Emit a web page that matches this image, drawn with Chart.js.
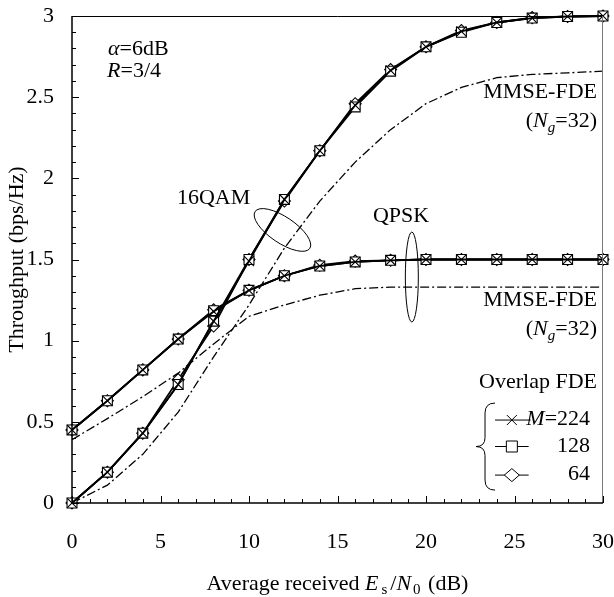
<!DOCTYPE html>
<html>
<head>
<meta charset="utf-8">
<script src="https://cdn.jsdelivr.net/npm/chart.js@4.4.1/dist/chart.umd.min.js"></script>
<style>
  body { margin: 0; background: #fff; }
  #wrap { width: 614px; height: 597px; position: relative; }
</style>
</head>
<body>
<div id="wrap"><canvas id="chartThroughput"></canvas></div>
<script>
// Es/N0 (dB)
const snr = [0, 2, 4, 6, 8, 10, 12, 14, 16, 18, 20, 22, 24, 26, 28, 30];

// overlap FDE, 16QAM
const qamM224 = [0, 0.19, 0.43, 0.73, 1.12, 1.49, 1.87, 2.17, 2.45, 2.665, 2.81, 2.905, 2.96, 2.987, 2.997, 3.0];
const qamM128 = [0, 0.19, 0.43, 0.73, 1.12, 1.50, 1.87, 2.17, 2.44, 2.66, 2.81, 2.90, 2.96, 2.987, 2.997, 3.0];
const qamM64  = [0, 0.19, 0.43, 0.76, 1.09, 1.50, 1.86, 2.17, 2.46, 2.67, 2.81, 2.91, 2.96, 2.99, 2.997, 3.0];

// overlap FDE, QPSK
const qpskM224 = [0.45, 0.63, 0.82, 1.01, 1.18, 1.31, 1.40, 1.46, 1.485, 1.495, 1.5, 1.5, 1.5, 1.5, 1.5, 1.5];
const qpskM128 = [0.45, 0.63, 0.82, 1.01, 1.185, 1.31, 1.40, 1.46, 1.485, 1.495, 1.5, 1.5, 1.5, 1.5, 1.5, 1.5];
const qpskM64  = [0.45, 0.63, 0.82, 1.01, 1.19, 1.31, 1.40, 1.465, 1.49, 1.495, 1.5, 1.5, 1.5, 1.5, 1.5, 1.5];

// MMSE-FDE (Ng=32)
const mmseQam  = [0, 0.11, 0.30, 0.56, 0.90, 1.22, 1.57, 1.86, 2.10, 2.30, 2.46, 2.56, 2.62, 2.64, 2.65, 2.66];
const mmseQpsk = [0.39, 0.52, 0.655, 0.80, 0.98, 1.15, 1.22, 1.28, 1.32, 1.33, 1.33, 1.33, 1.33, 1.33, 1.33, 1.33];

const xTicks = [0, 5, 10, 15, 20, 25, 30];
const yTicks = [0, 0.5, 1, 1.5, 2, 2.5, 3];

const SERIF = '"Liberation Serif", "Times New Roman", serif';

function pts(vals) {
  return vals.map((v, i) => ({ x: snr[i], y: v }));
}

function overlapSet(label, vals, style, radius, order) {
  return {
    label: label,
    data: pts(vals),
    borderColor: '#000',
    borderWidth: 1.8,
    pointStyle: style,
    pointRadius: radius,
    pointBorderWidth: 1.1,
    pointBorderColor: '#000',
    pointBackgroundColor: style === 'crossRot' ? '#000' : '#fff',
    clip: false,
    order: order
  };
}

function mmseSet(label, vals) {
  return {
    label: label,
    data: pts(vals),
    borderColor: '#000',
    borderWidth: 1.3,
    borderDash: [9, 3, 2, 3],
    pointRadius: 0,
    clip: false,
    order: 5
  };
}

// draws a row of text pieces with different fonts
function drawRuns(ctx, runs, x, y, align) {
  let w = 0;
  runs.forEach(r => { ctx.font = r.font; w += ctx.measureText(r.t).width + (r.gap || 0); });
  let cx = align === 'right' ? x - w : align === 'center' ? x - w / 2 : x;
  runs.forEach(r => {
    ctx.font = r.font;
    cx += (r.gap || 0);
    ctx.fillText(r.t, cx, y + (r.dy || 0));
    cx += ctx.measureText(r.t).width;
  });
}

const reg = '22px ' + SERIF;
const ital = 'italic 22px ' + SERIF;
const sub = '15px ' + SERIF;
const subI = 'italic 15px ' + SERIF;

const decorPlugin = {
  id: 'decor',
  afterDraw(chart) {
    const { ctx, chartArea: a, scales: { x, y } } = chart;
    const px = v => x.getPixelForValue(v);
    const py = v => y.getPixelForValue(v);
    ctx.save();
    ctx.strokeStyle = '#000';
    ctx.fillStyle = '#000';
    ctx.lineWidth = 1;

    // inward ticks
    ctx.beginPath();
    for (let i = 0; i <= 30; i++) {
      const p = Math.round(px(i)) + 0.5;
      ctx.moveTo(p, a.bottom);
      ctx.lineTo(p, a.bottom - (i % 5 === 0 ? 7 : 4));
    }
    for (let i = 0; i <= 30; i++) {
      const p = Math.round(py(i / 10)) + 0.5;
      ctx.moveTo(a.left, p);
      ctx.lineTo(a.left + (i % 5 === 0 ? 7 : 4), p);
    }
    ctx.stroke();

    // frame
    ctx.beginPath();
    ctx.moveTo(a.left + 0.5, a.top + 0.5);
    ctx.lineTo(a.right, a.top + 0.5);
    ctx.stroke();
    ctx.strokeStyle = '#777';
    ctx.beginPath();
    ctx.moveTo(a.right - 0.5, a.top);
    ctx.lineTo(a.right - 0.5, a.bottom);
    ctx.stroke();
    ctx.strokeStyle = '#000';
    ctx.lineWidth = 1.5;
    ctx.beginPath();
    ctx.moveTo(a.left, a.top);
    ctx.lineTo(a.left, a.bottom);
    ctx.lineTo(a.right, a.bottom);
    ctx.stroke();

    ctx.textAlign = 'left';
    ctx.textBaseline = 'alphabetic';

    // x title
    drawRuns(ctx, [
      { t: 'Average received ', font: reg },
      { t: 'E', font: ital },
      { t: 's', font: sub, dy: 4, gap: 3 },
      { t: '/', font: reg, gap: 3 },
      { t: 'N', font: ital },
      { t: '0', font: sub, dy: 4, gap: 2 },
      { t: ' (dB)', font: reg, gap: 2 }
    ], (a.left + a.right) / 2, 590, 'center');

    // parameters
    drawRuns(ctx, [{ t: 'α', font: ital }, { t: '=6dB', font: reg }], px(2.03), py(2.76), 'left');
    drawRuns(ctx, [{ t: 'R', font: ital }, { t: '=3/4', font: reg }], px(1.98), py(2.624), 'left');

    // modulation labels + ellipses
    drawRuns(ctx, [{ t: '16QAM', font: reg }], px(5.93), py(1.842), 'left');
    drawRuns(ctx, [{ t: 'QPSK', font: reg }], px(17.0), py(1.731), 'left');
    ctx.lineWidth = 1;
    ctx.beginPath();
    ctx.ellipse(px(11.89), py(1.682), 33, 13, 34 * Math.PI / 180, 0, Math.PI * 2);
    ctx.stroke();
    ctx.beginPath();
    ctx.ellipse(px(19.2), py(1.392), 6.5, 45, 0, 0, Math.PI * 2);
    ctx.stroke();

    // MMSE-FDE labels
    const rx = px(29.66);
    [[2.495, 2.316], [1.214, 1.035]].forEach(([a1, a2]) => {
      drawRuns(ctx, [{ t: 'MMSE-FDE', font: reg }], rx, py(a1), 'right');
      drawRuns(ctx, [
        { t: '(', font: reg },
        { t: 'N', font: ital },
        { t: 'g', font: subI, dy: 5 },
        { t: '=32)', font: reg }
      ], rx, py(a2), 'right');
    });

    // legend
    drawRuns(ctx, [{ t: 'Overlap FDE', font: reg }], rx, py(0.708), 'right');
    const lx0 = px(23.9), lx1 = px(25.8), mx = px(24.85), tr = px(29.27);
    const rows = [py(0.511), py(0.348), py(0.172)];
    ctx.lineWidth = 1;
    rows.forEach((ry, i) => {
      ctx.beginPath();
      ctx.moveTo(lx0, ry);
      ctx.lineTo(i === 0 ? lx1 + 2 : lx1, ry);
      ctx.stroke();
      ctx.beginPath();
      if (i === 0) {
        ctx.moveTo(mx - 5, ry - 5); ctx.lineTo(mx + 5, ry + 5);
        ctx.moveTo(mx + 5, ry - 5); ctx.lineTo(mx - 5, ry + 5);
        ctx.stroke();
      } else if (i === 1) {
        ctx.fillStyle = '#fff';
        ctx.rect(mx - 5.5, ry - 5.5, 11, 11);
        ctx.fill(); ctx.stroke();
      } else {
        ctx.fillStyle = '#fff';
        ctx.moveTo(mx - 7.5, ry); ctx.lineTo(mx, ry - 6.5);
        ctx.lineTo(mx + 7.5, ry); ctx.lineTo(mx, ry + 6.5);
        ctx.closePath();
        ctx.fill(); ctx.stroke();
      }
      ctx.fillStyle = '#000';
    });
    drawRuns(ctx, [{ t: 'M', font: ital }, { t: '=224', font: reg }], tr, rows[0] + 5, 'right');
    drawRuns(ctx, [{ t: '128', font: reg }], tr, rows[1] + 5, 'right');
    drawRuns(ctx, [{ t: '64', font: reg }], tr, rows[2] + 5, 'right');

    // brace
    const bl = lx0 - 19, bx = lx0 - 10;
    const bt = rows[0] - 17, bb = rows[2] + 15, bm = (bt + bb) / 2;
    ctx.beginPath();
    ctx.moveTo(lx0, bt);
    ctx.quadraticCurveTo(bx, bt, bx, bt + 10);
    ctx.lineTo(bx, bm - 9);
    ctx.quadraticCurveTo(bx, bm, bl, bm);
    ctx.quadraticCurveTo(bx, bm, bx, bm + 9);
    ctx.lineTo(bx, bb - 10);
    ctx.quadraticCurveTo(bx, bb, lx0, bb);
    ctx.stroke();

    ctx.restore();
  }
};

new Chart(document.getElementById('chartThroughput'), {
  type: 'line',
  data: {
    datasets: [
      overlapSet('16QAM M=224', qamM224, 'crossRot', 7, 1),
      overlapSet('16QAM M=128', qamM128, 'rect', 7, 2),
      overlapSet('16QAM M=64', qamM64, 'rectRot', 6, 3),
      overlapSet('QPSK M=224', qpskM224, 'crossRot', 7, 1),
      overlapSet('QPSK M=128', qpskM128, 'rect', 7, 2),
      overlapSet('QPSK M=64', qpskM64, 'rectRot', 6, 3),
      mmseSet('16QAM MMSE-FDE', mmseQam),
      mmseSet('QPSK MMSE-FDE', mmseQpsk)
    ]
  },
  options: {
    responsive: true,
    maintainAspectRatio: false,
    animation: false,
    layout: { padding: { top: 16, right: 11, left: 0, bottom: 0 } },
    plugins: { legend: { display: false }, tooltip: { enabled: false } },
    elements: { line: { tension: 0 } },
    scales: {
      x: {
        type: 'linear',
        min: 0,
        max: 30,
        border: { display: false },
        grid: { display: false, drawTicks: false },
        afterBuildTicks: s => { s.ticks = xTicks.map(v => ({ value: v })); },
        afterFit: s => { s.height = 94; s.paddingLeft = 0; s.paddingRight = 0; },
        ticks: { color: '#000', padding: 26, maxRotation: 0, autoSkip: false, font: { family: SERIF, size: 22 } }
      },
      y: {
        min: 0,
        max: 3,
        border: { display: false },
        grid: { display: false, drawTicks: false },
        afterBuildTicks: s => { s.ticks = yTicks.map(v => ({ value: v })); },
        afterFit: s => { s.width = 72; s.paddingTop = 0; s.paddingBottom = 0; },
        title: { display: true, text: 'Throughput (bps/Hz)', color: '#000', padding: { top: 4, bottom: 0 }, font: { family: SERIF, size: 22 } },
        ticks: { color: '#000', padding: 18, autoSkip: false, font: { family: SERIF, size: 22 }, callback: v => String(v) }
      }
    }
  },
  plugins: [decorPlugin]
});
</script>
</body>
</html>
